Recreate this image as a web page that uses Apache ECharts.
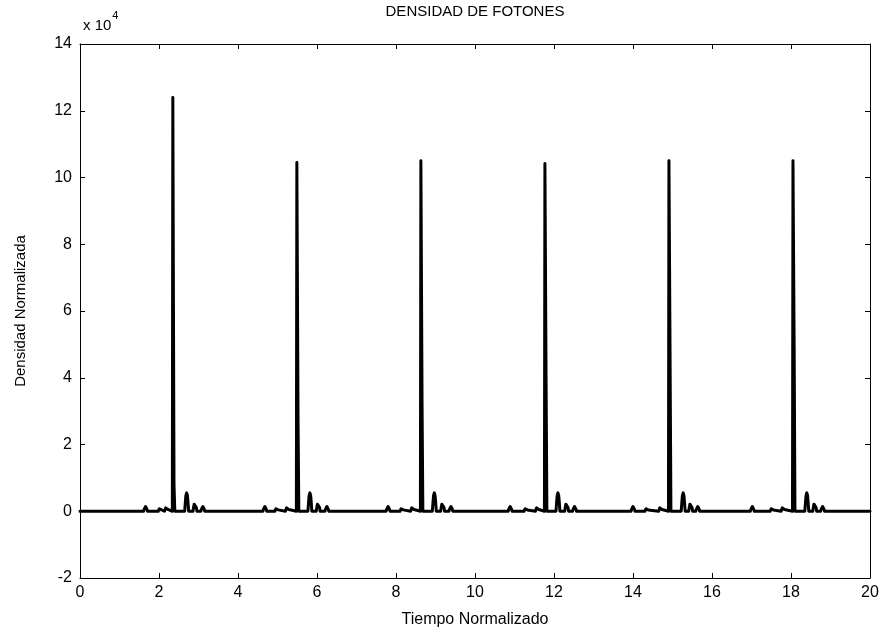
<!DOCTYPE html>
<html>
<head>
<meta charset="utf-8">
<script src="https://cdn.jsdelivr.net/npm/echarts@6/dist/echarts.min.js"></script>
<style>html,body{margin:0;padding:0;background:#fff;}#c{width:886px;height:637px;}</style>
</head>
<body>
<div id="c"></div>
<script>
// Main pulse times, peak heights (x 10^4) and trailing shoulder heights
var mainTimes = [2.35, 5.49, 8.63, 11.77, 14.91, 18.05];
var mainHeights = [12.4, 10.45, 10.5, 10.42, 10.5, 10.5];
var shoulderHeights = [0.8, 2.7, 3.2, 3.8, 4.3, 4.9];
// Small satellite pulses
var bumpTimes = [1.66, 2.03, 2.19, 2.70, 2.91, 3.11,
                 4.68, 4.98, 5.25, 5.82, 6.03, 6.25,
                 7.80, 8.15, 8.42, 8.97, 9.18, 9.39,
                 10.89, 11.29, 11.58, 12.10, 12.32, 12.52,
                 14.00, 14.35, 14.70, 15.27, 15.46, 15.64,
                 17.02, 17.52, 17.80, 18.40, 18.60, 18.80];
var bumpHeights = [0.14, 0.09, 0.12, 0.55, 0.25, 0.14,
                   0.14, 0.09, 0.12, 0.55, 0.25, 0.14,
                   0.14, 0.09, 0.12, 0.55, 0.25, 0.14,
                   0.14, 0.09, 0.12, 0.55, 0.25, 0.14,
                   0.14, 0.09, 0.12, 0.55, 0.25, 0.14,
                   0.14, 0.09, 0.12, 0.55, 0.25, 0.14];
var xTicks = [0, 2, 4, 6, 8, 10, 12, 14, 16, 18, 20];
var yTicks = [-2, 0, 2, 4, 6, 8, 10, 12, 14];

// Build the trace from the events
var events = [];
mainTimes.forEach(function (t, i) {
  events.push({t: t, pts: [[t - 0.012, 0], [t, mainHeights[i]], [t + 0.02, mainHeights[i]], [t + 0.03, shoulderHeights[i]], [t + 0.05, 0]]});
});
bumpTimes.forEach(function (t, i) {
  var h = bumpHeights[i];
  events.push({t: t, pts: [[t - 0.05, 0], [t - 0.035, h * 0.45], [t - 0.02, h * 0.85], [t, h], [t + 0.02, h * 0.85], [t + 0.035, h * 0.45], [t + 0.05, 0]]});
});
events.sort(function (a, b) { return a.t - b.t; });
var data = [[0, 0]];
events.forEach(function (e) { e.pts.forEach(function (p) { data.push(p); }); });
data.push([20, 0]);

var FONT = '"Liberation Sans", Arial, sans-serif';
var chart = echarts.init(document.getElementById('c'), null, {renderer: 'canvas'});
var axisCommon = {
  axisLine: {show: true, onZero: false, lineStyle: {color: '#000', width: 1}},
  axisTick: {show: true, inside: true, length: 5, lineStyle: {color: '#000', width: 1}},
  splitLine: {show: false}
};
chart.setOption({
  animation: false,
  backgroundColor: '#fff',
  grid: {left: 80, right: 16, top: 44, bottom: 59, containLabel: false},
  xAxis: [
    Object.assign({type: 'value', min: xTicks[0], max: xTicks[xTicks.length - 1], interval: 2, position: 'bottom',
      axisLabel: {color: '#000', fontSize: 16, fontFamily: FONT, margin: 7},
      name: 'Tiempo Normalizado', nameLocation: 'middle', nameGap: 34,
      nameTextStyle: {color: '#000', fontSize: 16, fontFamily: FONT}}, axisCommon),
    Object.assign({type: 'value', min: xTicks[0], max: xTicks[xTicks.length - 1], interval: 2, position: 'top',
      axisLabel: {show: false}}, axisCommon)
  ],
  yAxis: [
    Object.assign({type: 'value', min: yTicks[0], max: yTicks[yTicks.length - 1], interval: 2, position: 'left',
      axisLabel: {color: '#000', fontSize: 16, fontFamily: FONT, margin: 8},
      name: 'Densidad Normalizada', nameLocation: 'middle', nameGap: 52, nameRotate: 90,
      nameTextStyle: {color: '#000', fontSize: 15, fontFamily: FONT}}, axisCommon),
    Object.assign({type: 'value', min: yTicks[0], max: yTicks[yTicks.length - 1], interval: 2, position: 'right',
      axisLabel: {show: false}}, axisCommon)
  ],
  graphic: [
    {type: 'text', x: 475, y: 12, style: {text: 'DENSIDAD DE FOTONES', fill: '#000', font: '15px ' + FONT, align: 'center', verticalAlign: 'middle'}},
    {type: 'text', left: 83, top: 10, style: {
      text: '{a|x 10}{b|4}', fill: '#000',
      rich: {a: {fontSize: 15, fontFamily: FONT, fill: '#000', verticalAlign: 'bottom', padding: [8, 0, 0, 0]},
             b: {fontSize: 11, fontFamily: FONT, fill: '#000', verticalAlign: 'top', padding: [0, 0, 8, 1]}}
    }}
  ],
  series: [{
    type: 'line', data: data, xAxisIndex: 0, yAxisIndex: 0,
    showSymbol: false, symbol: 'none',
    lineStyle: {color: '#000', width: 3, join: 'round', cap: 'round'},
    clip: true
  }]
});
</script>
</body>
</html>
